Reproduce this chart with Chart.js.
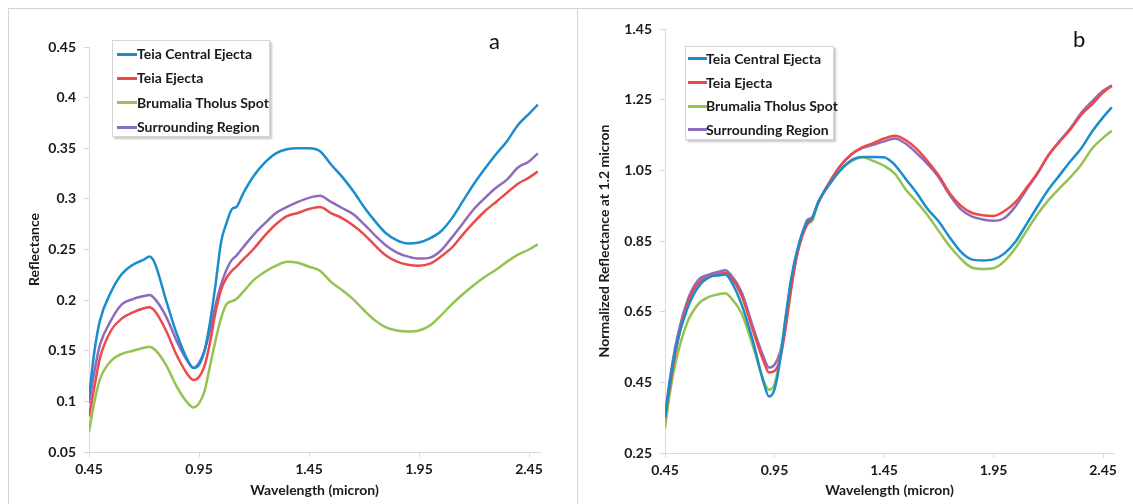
<!DOCTYPE html>
<html>
<head>
<meta charset="utf-8">
<script src="https://cdn.jsdelivr.net/npm/chart.js@4/dist/chart.umd.min.js"></script>
<style>
  html, body { margin:0; padding:0; background:#fff; }
  body { width:1133px; height:504px; position:relative; overflow:hidden; font-family: Lato, "Open Sans", sans-serif; }
  .wrap { position:absolute; top:0; height:504px; }
  .frame { position:absolute; background:#d4d4d4; }
  .legend { position:absolute; background:#fff; border:1px solid #d6d6d6; box-shadow:2px 2px 2px rgba(0,0,0,0.22); box-sizing:border-box; }
  .legend .row { position:relative; font-weight:bold; font-size:14px; color:#1a1a1a; white-space:nowrap; }
  .legend .swatch { position:absolute; height:3px; top:50%; margin-top:-1.5px; }
  .panelLabel { position:absolute; font-family: Lato, sans-serif; font-size:22px; color:#111; }
</style>
</head>
<body>
<div class="frame" style="left:8px;top:8px;width:1125px;height:1px;"></div>
<div class="frame" style="left:8px;top:8px;width:1px;height:496px;"></div>
<div class="frame" style="left:577px;top:8px;width:1px;height:496px;"></div>

<div class="wrap" style="left:0;width:576px;"><canvas id="ca"></canvas></div>
<div class="wrap" style="left:578px;width:555px;"><canvas id="cb"></canvas></div>

<div class="panelLabel" style="left:489px;top:27px;">a</div>
<div class="panelLabel" style="left:1073px;top:25px;">b</div>

<div id="legA" class="legend" style="left:112px;top:40px;width:158px;height:97px;padding-top:1px;"></div>
<div id="legB" class="legend" style="left:685px;top:46px;width:149px;height:94px;padding-top:0px;"></div>

<script>
// ---------------- DATA ----------------
const seriesNames = ["Teia Central Ejecta", "Teia Ejecta", "Brumalia Tholus Spot", "Surrounding Region"];
const seriesColors = ["#1b8dcc", "#ec4a4a", "#93c350", "#8e6bbd"];

const wavelength = [0.45,0.475,0.5,0.55,0.6,0.65,0.7,0.725,0.75,0.8,0.85,0.9,0.925,0.95,0.975,1.0,1.025,1.05,1.075,1.1,1.12,1.15,1.2,1.25,1.3,1.35,1.4,1.45,1.5,1.55,1.6,1.65,1.7,1.75,1.8,1.85,1.9,1.95,2.0,2.05,2.1,2.15,2.2,2.25,2.3,2.35,2.4,2.45,2.49];

// Panel a: Reflectance
const reflCentral = [0.104,0.150,0.180,0.208,0.226,0.235,0.240,0.243,0.236,0.200,0.166,0.140,0.133,0.136,0.150,0.178,0.215,0.257,0.276,0.290,0.292,0.305,0.323,0.336,0.345,0.349,0.350,0.350,0.347,0.334,0.322,0.308,0.292,0.278,0.266,0.259,0.256,0.257,0.261,0.268,0.281,0.298,0.315,0.330,0.344,0.357,0.373,0.384,0.393];
const reflEjecta  = [0.085,0.115,0.143,0.170,0.182,0.188,0.192,0.193,0.189,0.170,0.145,0.126,0.121,0.124,0.135,0.158,0.188,0.210,0.222,0.229,0.233,0.240,0.251,0.264,0.275,0.283,0.286,0.290,0.292,0.286,0.281,0.274,0.265,0.254,0.244,0.238,0.235,0.234,0.236,0.243,0.252,0.265,0.277,0.288,0.297,0.306,0.315,0.321,0.327];
const reflSpot    = [0.070,0.100,0.122,0.140,0.147,0.150,0.153,0.154,0.151,0.136,0.114,0.098,0.094,0.098,0.110,0.135,0.160,0.182,0.196,0.199,0.201,0.208,0.220,0.228,0.234,0.238,0.237,0.233,0.229,0.218,0.210,0.201,0.190,0.180,0.173,0.170,0.169,0.170,0.175,0.185,0.196,0.206,0.215,0.223,0.230,0.238,0.245,0.250,0.255];
const reflSurr    = [0.098,0.130,0.156,0.180,0.196,0.201,0.204,0.205,0.201,0.184,0.159,0.139,0.133,0.138,0.150,0.170,0.195,0.215,0.230,0.240,0.244,0.252,0.265,0.276,0.286,0.292,0.297,0.301,0.303,0.297,0.291,0.285,0.275,0.264,0.254,0.247,0.243,0.241,0.242,0.249,0.262,0.276,0.290,0.301,0.311,0.319,0.331,0.337,0.345];

// Panel b: Normalized reflectance at 1.2 micron
const normCentral = [0.350,0.460,0.550,0.655,0.718,0.747,0.753,0.755,0.738,0.670,0.570,0.450,0.410,0.430,0.510,0.630,0.740,0.815,0.870,0.905,0.912,0.960,1.010,1.050,1.078,1.088,1.088,1.087,1.065,1.025,0.985,0.940,0.905,0.860,0.820,0.798,0.795,0.798,0.815,0.848,0.897,0.947,0.995,1.035,1.075,1.112,1.160,1.200,1.228];
const normEjecta  = [0.350,0.450,0.540,0.667,0.728,0.748,0.757,0.760,0.748,0.695,0.600,0.510,0.478,0.482,0.515,0.600,0.710,0.802,0.860,0.897,0.912,0.958,1.015,1.062,1.095,1.115,1.127,1.140,1.148,1.135,1.110,1.075,1.035,0.985,0.950,0.930,0.923,0.921,0.935,0.960,1.000,1.042,1.092,1.130,1.165,1.207,1.237,1.270,1.289];
const normSpot    = [0.320,0.430,0.510,0.617,0.670,0.692,0.700,0.702,0.690,0.645,0.555,0.455,0.429,0.445,0.520,0.630,0.730,0.805,0.865,0.900,0.905,0.960,1.010,1.050,1.075,1.087,1.077,1.063,1.040,0.995,0.960,0.922,0.878,0.835,0.800,0.775,0.771,0.773,0.793,0.830,0.878,0.925,0.965,0.998,1.030,1.066,1.112,1.142,1.162];
const normSurr    = [0.360,0.470,0.560,0.677,0.738,0.755,0.764,0.767,0.755,0.705,0.610,0.522,0.492,0.500,0.535,0.610,0.715,0.805,0.865,0.910,0.915,0.960,1.015,1.062,1.095,1.113,1.122,1.132,1.140,1.125,1.098,1.067,1.030,0.980,0.940,0.920,0.911,0.907,0.915,0.948,0.995,1.040,1.092,1.132,1.168,1.212,1.245,1.275,1.291];

const xTicks = [0.45, 0.95, 1.45, 1.95, 2.45];
const xTickLabels = ["0.45", "0.95", "1.45", "1.95", "2.45"];
const yTicksA = [0.05, 0.1, 0.15, 0.2, 0.25, 0.3, 0.35, 0.4, 0.45];
const yTickLabelsA = ["0.05", "0.1", "0.15", "0.2", "0.25", "0.3", "0.35", "0.4", "0.45"];
const yTicksB = [0.25, 0.45, 0.65, 0.85, 1.05, 1.25, 1.45];
const yTickLabelsB = ["0.25", "0.45", "0.65", "0.85", "1.05", "1.25", "1.45"];

const xTitle = "Wavelength (micron)";
const yTitleA = "Reflectance";
const yTitleB = "Normalized Reflectance at 1.2 micron";

// ---------------- CHARTS ----------------
const AXIS_COLOR = "#d9d9d9";
const TEXT_COLOR = "#1a1a1a";
const tickFont = { family: "Lato, 'Open Sans', sans-serif", size: 14, weight: "bold" };
const titleFont = { family: "Lato, 'Open Sans', sans-serif", size: 14, weight: "bold" };

function makeDatasets(seriesList) {
  return seriesList.map((vals, i) => ({
    label: seriesNames[i],
    data: wavelength.map((w, k) => ({ x: w, y: vals[k] })),
    borderColor: seriesColors[i],
    backgroundColor: seriesColors[i],
    borderWidth: 2.5,
    pointRadius: 0,
    tension: 0.4,
    cubicInterpolationMode: "monotone",
    fill: false
  }));
}

function makeChart(id, seriesList, cfg) {
  return new Chart(document.getElementById(id), {
    type: "line",
    data: { datasets: makeDatasets(seriesList) },
    options: {
      responsive: true,
      maintainAspectRatio: false,
      animation: false,
      events: [],
      layout: { padding: { left: cfg.padLeft, right: cfg.padRight, top: cfg.padTop, bottom: 0 } },
      plugins: { legend: { display: false }, tooltip: { enabled: false } },
      scales: {
        x: {
          type: "linear",
          min: 0.45, max: 2.5,
          afterBuildTicks: s => { s.ticks = xTicks.map(v => ({ value: v })); },
          afterFit: s => { s.height = cfg.xHeight; },
          ticks: { callback: (v, i) => xTickLabels[i], font: tickFont, color: TEXT_COLOR, padding: 4, maxRotation: 0, autoSkip: false },
          grid: { display: true, drawOnChartArea: false, drawTicks: true, tickLength: 5, color: AXIS_COLOR },
          border: { display: true, color: AXIS_COLOR, width: 1 },
          title: { display: true, text: xTitle, font: titleFont, color: TEXT_COLOR, padding: { top: 0, bottom: 5 } }
        },
        y: {
          type: "linear",
          min: cfg.yMin, max: cfg.yMax,
          afterBuildTicks: s => { s.ticks = cfg.yTicks.map(v => ({ value: v })); },
          afterFit: s => { s.width = cfg.yWidth; },
          ticks: { callback: (v, i) => cfg.yLabels[i], font: tickFont, color: TEXT_COLOR, padding: 8, autoSkip: false },
          grid: { display: true, drawOnChartArea: false, drawTicks: true, tickLength: 5, color: AXIS_COLOR },
          border: { display: true, color: AXIS_COLOR, width: 1 },
          title: { display: true, text: cfg.yTitle, font: titleFont, color: TEXT_COLOR, padding: { top: cfg.yTitlePad, bottom: 0 } }
        }
      }
    }
  });
}

makeChart("ca", [reflCentral, reflEjecta, reflSpot, reflSurr], {
  padLeft: 20, padRight: 36, padTop: 47, xHeight: 52, yWidth: 69, yTitlePad: 6,
  yMin: 0.05, yMax: 0.45, yTicks: yTicksA, yLabels: yTickLabelsA, yTitle: yTitleA
});
makeChart("cb", [normCentral, normEjecta, normSpot, normSurr], {
  padLeft: 12, padRight: 19, padTop: 29, xHeight: 51, yWidth: 75, yTitlePad: 6,
  yMin: 0.25, yMax: 1.45, yTicks: yTicksB, yLabels: yTickLabelsB, yTitle: yTitleB
});

// ---------------- LEGENDS (HTML) ----------------
function buildLegend(id, rowH, swLeft, swWidth, textLeft) {
  const box = document.getElementById(id);
  seriesNames.forEach((name, i) => {
    const row = document.createElement("div");
    row.className = "row";
    row.style.height = rowH + "px";
    row.style.lineHeight = rowH + "px";
    row.style.paddingLeft = textLeft + "px";
    const sw = document.createElement("span");
    sw.className = "swatch";
    sw.style.left = swLeft + "px";
    sw.style.width = swWidth + "px";
    sw.style.background = seriesColors[i];
    row.appendChild(sw);
    row.appendChild(document.createTextNode(name));
    box.appendChild(row);
  });
}
buildLegend("legA", 24.3, 4, 20, 24);
buildLegend("legB", 23.7, 2, 19, 20);
</script>
</body>
</html>
